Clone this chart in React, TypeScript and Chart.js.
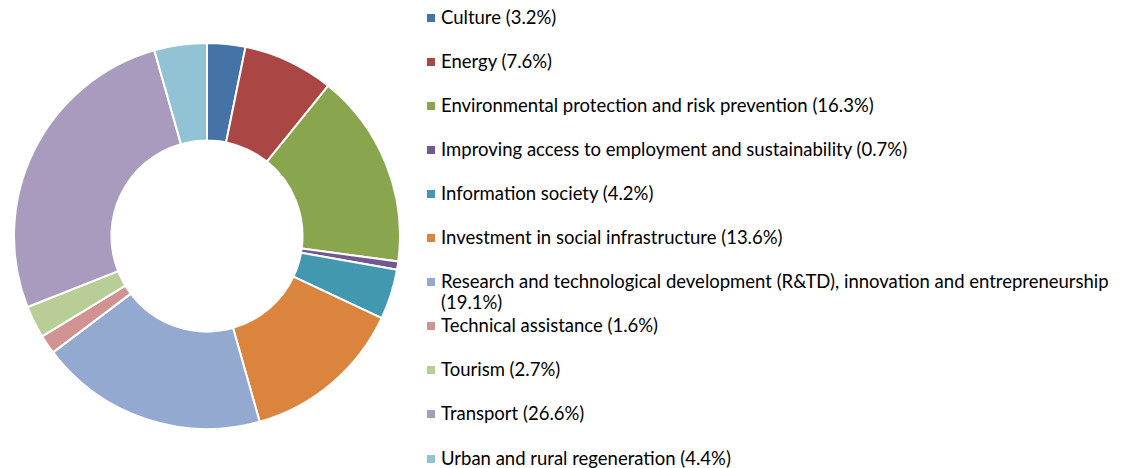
import React, { useEffect, useRef } from "react";
import { Chart, registerables } from "chart.js";

Chart.register(...registerables);

const categories: string[] = [
  "Culture",
  "Energy",
  "Environmental protection and risk prevention",
  "Improving access to employment and sustainability",
  "Information society",
  "Investment in social infrastructure",
  "Research and technological development (R&TD), innovation and entrepreneurship",
  "Technical assistance",
  "Tourism",
  "Transport",
  "Urban and rural regeneration",
];

const shares: number[] = [3.2, 7.6, 16.3, 0.7, 4.2, 13.6, 19.1, 1.6, 2.7, 26.6, 4.4];

const colors: string[] = [
  "#4572A7",
  "#AA4643",
  "#89A54E",
  "#71588F",
  "#4198AF",
  "#DB843D",
  "#93A9CF",
  "#D19392",
  "#B9CD96",
  "#A99BBD",
  "#91C3D5",
];

const FONT = "Lato, 'Open Sans', sans-serif";

export default function App() {
  const canvasRef = useRef<HTMLCanvasElement | null>(null);

  useEffect(() => {
    if (!canvasRef.current) return;
    const chart = new Chart(canvasRef.current, {
      type: "doughnut",
      data: {
        labels: categories,
        datasets: [
          {
            data: shares,
            backgroundColor: colors,
            borderColor: "#ffffff",
            borderWidth: 2,
          },
        ],
      },
      options: {
        responsive: false,
        animation: false,
        cutout: "49.5%",
        layout: { padding: 0 },
        plugins: {
          legend: { display: false },
          tooltip: { enabled: false },
        },
      },
    });
    return () => chart.destroy();
  }, []);

  return (
    <div
      style={{
        position: "absolute",
        left: 0,
        top: 0,
        width: 1123,
        height: 468,
        background: "#ffffff",
        overflow: "hidden",
        fontFamily: FONT,
      }}
    >
      <canvas
        ref={canvasRef}
        width={388}
        height={388}
        style={{ position: "absolute", left: 13, top: 42, width: 388, height: 388 }}
      />
      {categories.map((name, i) => {
        const center = 17 + 44.1 * i;
        return (
          <div
            key={name}
            style={{
              position: "absolute",
              left: 427,
              top: center - 10.5,
              width: 696,
              display: "flex",
              alignItems: "flex-start",
              fontSize: 18.5,
              lineHeight: "21px",
              color: "#000000",
            }}
          >
            <span
              style={{
                display: "inline-block",
                width: 8,
                height: 8,
                marginTop: 7,
                marginRight: 6,
                flex: "0 0 auto",
                background: colors[i],
              }}
            />
            <span style={{ whiteSpace: "normal" }}>
              {name} ({shares[i].toFixed(1)}%)
            </span>
          </div>
        );
      })}
    </div>
  );
}
